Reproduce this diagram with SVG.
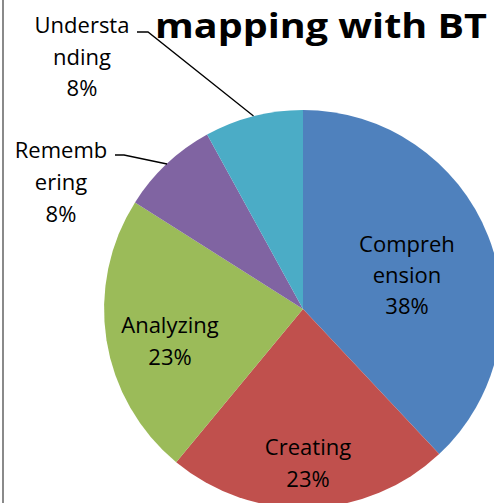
<svg xmlns="http://www.w3.org/2000/svg" width="494" height="503" viewBox="0 0 494 503">
  <style>
    .lbl { font-family: "Open Sans", Lato, "Liberation Sans", sans-serif; font-size: 22px; fill: #000; text-anchor: middle; }
    .title { font-family: "Open Sans", Lato, "Liberation Sans", sans-serif; font-size: 34px; font-weight: bold; fill: #000; text-anchor: middle; }
    .lead { fill: none; stroke: #000; stroke-width: 1.3; }
  </style>
  <rect width="494" height="503" fill="#fff"/>
  <!-- left frame edge -->
  <line x1="3" y1="0" x2="3" y2="503" stroke="#8a8a8a" stroke-width="2"/>

  <text class="title" x="321" y="38" textLength="332" lengthAdjust="spacingAndGlyphs">mapping with BT</text>

  <!-- pie, centre (303,309), r = 199, slices clockwise from 12 o'clock -->
  <g id="comprehension">
    <path d="M303,309 L303,110 A199,199 0 0 1 439.2,454.1 Z" fill="#4F81BD"/>
    <text class="lbl" x="407" y="252">Compreh</text>
    <text class="lbl" x="407" y="283">ension</text>
    <text class="lbl" x="407" y="314">38%</text>
  </g>
  <g id="creating">
    <path d="M303,309 L439.2,454.1 A199,199 0 0 1 176.2,462.3 Z" fill="#C0504D"/>
    <text class="lbl" x="308" y="455">Creating</text>
    <text class="lbl" x="308" y="487">23%</text>
  </g>
  <g id="analyzing">
    <path d="M303,309 L176.2,462.3 A199,199 0 0 1 135.0,202.4 Z" fill="#9BBB59"/>
    <text class="lbl" x="170" y="333">Analyzing</text>
    <text class="lbl" x="170" y="365">23%</text>
  </g>
  <g id="remembering">
    <path d="M303,309 L135.0,202.4 A199,199 0 0 1 207.1,134.6 Z" fill="#8064A2"/>
    <text class="lbl" x="61" y="158">Rememb</text>
    <text class="lbl" x="61" y="190">ering</text>
    <text class="lbl" x="61" y="222">8%</text>
  </g>
  <g id="understanding">
    <path d="M303,309 L207.1,134.6 A199,199 0 0 1 303,110 Z" fill="#4BACC6"/>
    <text class="lbl" x="82" y="33">Understa</text>
    <text class="lbl" x="82" y="65">nding</text>
    <text class="lbl" x="82" y="96">8%</text>
  </g>

  <g id="connectors">
    <polyline class="lead" points="137,32 148,32 253.5,116"/>
    <polyline class="lead" points="115,155 124,155 167,164"/>
  </g>
</svg>
